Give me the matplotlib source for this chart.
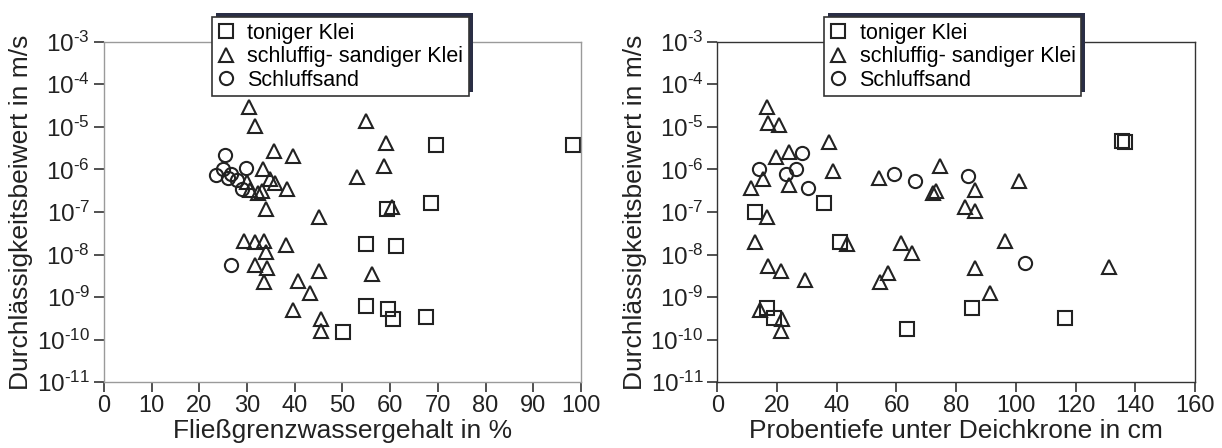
import matplotlib
matplotlib.use('Agg')
import matplotlib.pyplot as plt
from matplotlib.patches import Rectangle
from matplotlib.ticker import NullLocator

plt.rcParams['font.family'] = ['Liberation Sans', 'DejaVu Sans']
plt.rcParams['mathtext.fontset'] = 'custom'
plt.rcParams['mathtext.rm'] = 'Liberation Sans'
plt.rcParams['mathtext.it'] = 'Liberation Sans:italic'
plt.rcParams['mathtext.bf'] = 'Liberation Sans:bold'

# --- data ---
# left: Fliessgrenzwassergehalt (%) vs. k (m/s)
ton_wl = [59.4, 54.9, 61.3, 54.9, 59.6, 60.6, 50.2, 69.6, 98.3, 68.6, 67.5]
ton_wl_k = [1.15e-7, 1.8e-8, 1.55e-8, 6.3e-10, 5.4e-10, 3.0e-10, 1.55e-10,
            3.7e-6, 3.7e-6, 1.6e-7, 3.4e-10]

sk_wl = [30.5, 31.7, 35.6, 39.6, 54.9, 59.1, 58.8, 53.0, 33.4, 29.9, 34.8, 35.8,
         30.6, 32.3, 33.2, 38.4, 34.0, 45.1, 60.4, 29.4, 31.7, 33.5, 38.2, 33.9,
         31.7, 34.2, 33.5, 45.1, 56.2, 40.7, 43.2, 39.7, 45.4, 45.4]
sk_wl_k = [2.9e-5, 1.07e-5, 2.7e-6, 2.1e-6, 1.4e-5, 4.2e-6, 1.2e-6, 6.6e-7,
           1.0e-6, 5.1e-7, 6.1e-7, 4.7e-7, 3.2e-7, 2.8e-7, 3.1e-7, 3.5e-7,
           1.15e-7, 7.6e-8, 1.3e-7, 2.1e-8, 1.95e-8, 2.1e-8, 1.7e-8, 1.15e-8,
           5.6e-9, 4.9e-9, 2.3e-9, 4.1e-9, 3.5e-9, 2.4e-9, 1.24e-9, 5.0e-10,
           3.0e-10, 1.6e-10]

ss_wl = [25.4, 23.5, 24.9, 26.6, 25.9, 27.9, 29.8, 29.0, 26.6]
ss_wl_k = [2.2e-6, 7.3e-7, 1.0e-6, 7.8e-7, 6.3e-7, 5.6e-7, 1.1e-6, 3.4e-7, 5.6e-9]

# right: Probentiefe (cm) vs. k (m/s)
ton_d = [12.6, 35.7, 41.1, 16.5, 18.9, 136.5, 135.7, 85.4, 116.4, 63.6]
ton_d_k = [1.0e-7, 1.65e-7, 2.0e-8, 5.7e-10, 3.2e-10, 4.3e-6, 4.7e-6,
           5.6e-10, 3.3e-10, 1.8e-10]

sk_d = [16.5, 17.0, 20.8, 37.5, 19.7, 24.1, 38.6, 15.4, 11.3, 24.1, 16.5, 12.6,
        43.3, 17.1, 21.2, 29.4, 14.3, 21.6, 21.2, 74.6, 101.1, 86.3, 72.3, 73.2,
        82.9, 86.3, 96.4, 65.3, 61.5, 86.2, 91.3, 131.1, 54.2, 54.5, 57.3]
sk_d_k = [3.0e-5, 1.2e-5, 1.1e-5, 4.5e-6, 2.0e-6, 2.6e-6, 9.3e-7, 5.9e-7,
          3.6e-7, 4.3e-7, 7.8e-8, 2.0e-8, 1.8e-8, 5.4e-9, 4.2e-9, 2.5e-9,
          5.1e-10, 3.0e-10, 1.6e-10, 1.22e-6, 5.4e-7, 3.2e-7, 2.8e-7, 3.1e-7,
          1.3e-7, 1.07e-7, 2.1e-8, 1.07e-8, 1.85e-8, 4.9e-9, 1.28e-9, 5.2e-9,
          6.2e-7, 2.3e-9, 3.6e-9]

ss_d = [14.1, 28.3, 23.0, 26.3, 30.5, 59.3, 66.1, 84.1, 103.1]
ss_d_k = [1.0e-6, 2.4e-6, 7.8e-7, 1.0e-6, 3.6e-7, 7.8e-7, 5.4e-7, 7.1e-7, 6.3e-9]

labels = ['toniger Klei', 'schluffig- sandiger Klei', 'Schluffsand']
decades = list(range(-11, -2))
ylabel = 'Durchlässigkeitsbeiwert in m/s'

fig = plt.figure(figsize=(12.22, 4.48), dpi=100)
ax1 = fig.add_axes([0.0851, 0.1467, 0.3903, 0.7603])
ax2 = fig.add_axes([0.5870, 0.1467, 0.3909, 0.7603])

mk = dict(linestyle='none', markerfacecolor='none', markeredgecolor='#222222',
          markeredgewidth=1.5)


def style_axes(ax, spine_color):
    ax.set_yscale('log')
    ax.set_ylim(1e-11, 1e-3)
    ax.set_yticks([10.0 ** d for d in decades])
    ax.set_yticklabels([r'$\mathregular{10^{\text{-}%d}}$' % -d for d in decades])
    ax.yaxis.set_minor_locator(NullLocator())
    for s in ax.spines.values():
        s.set_color(spine_color)
        s.set_linewidth(1.0)
    ax.tick_params(direction='out', length=7.5, width=1.1, color='#222222',
                   labelsize=17, labelcolor='#222222')
    ax.tick_params(axis='y', pad=2.5, labelsize=17.5)
    ax.tick_params(axis='x', pad=2)
    ax.set_ylabel(ylabel, fontsize=19, color='#222222')
    ax.yaxis.set_label_coords(-0.148, 0.5)


def add_legend(ax, x0):
    leg = ax.legend(loc='upper left', bbox_to_anchor=(x0, 1.072),
                    borderaxespad=0, fontsize=15.5, frameon=True,
                    fancybox=False, edgecolor='#333333', framealpha=1,
                    borderpad=0.25, handlelength=0.8, handletextpad=0.6,
                    labelspacing=0.12, numpoints=1)
    leg.get_frame().set_linewidth(1.2)
    return leg


# left panel
ax1.plot(ton_wl, ton_wl_k, marker='s', markersize=9.5, label=labels[0], **mk)
ax1.plot(sk_wl, sk_wl_k, marker='^', markersize=10.5, label=labels[1], **mk)
ax1.plot(ss_wl, ss_wl_k, marker='o', markersize=9.5, label=labels[2], **mk)
style_axes(ax1, '#9a9a9a')
ax1.set_xlim(0, 100)
ax1.set_xticks(range(0, 101, 10))
ax1.set_xlabel('Fließgrenzwassergehalt in %', fontsize=19, color='#222222',
               labelpad=1)
leg1 = add_legend(ax1, 0.2258)

# right panel
ax2.plot(ton_d, ton_d_k, marker='s', markersize=9.5, label=labels[0], **mk)
ax2.plot(sk_d, sk_d_k, marker='^', markersize=10.5, label=labels[1], **mk)
ax2.plot(ss_d, ss_d_k, marker='o', markersize=9.5, label=labels[2], **mk)
style_axes(ax2, '#333333')
ax2.set_xlim(0, 160)
ax2.set_xticks(range(0, 161, 20))
ax2.set_xlabel('Probentiefe unter Deichkrone in cm', fontsize=19,
               color='#222222', labelpad=1)
leg2 = add_legend(ax2, 0.2234)

# dark shadow offset to the upper right of each legend box
fig.canvas.draw()
for ax, leg in ((ax1, leg1), (ax2, leg2)):
    bb = leg.get_window_extent().transformed(ax.transAxes.inverted())
    dx = 4 / (ax.bbox.width)
    dy = 4 / (ax.bbox.height)
    ax.add_patch(Rectangle((bb.x0 + dx, bb.y0 + dy), bb.width, bb.height,
                           transform=ax.transAxes, facecolor='#2a2e45',
                           edgecolor='none', clip_on=False, zorder=4.9))

fig.savefig('out.png', dpi=100)
